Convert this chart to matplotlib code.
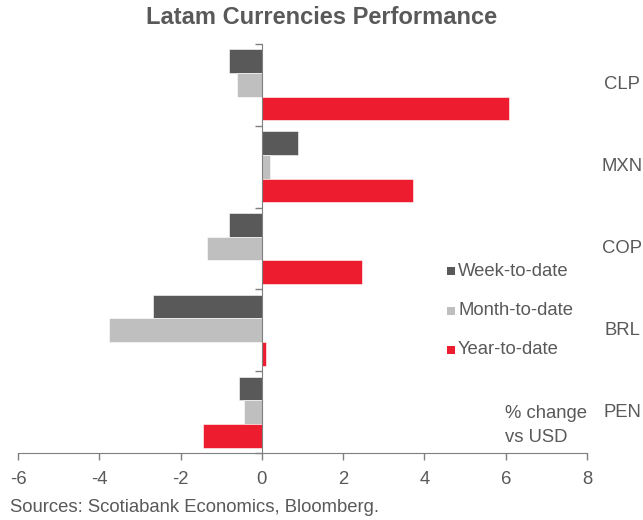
import matplotlib
matplotlib.use("Agg")
import matplotlib.pyplot as plt
from matplotlib.patches import Rectangle
from matplotlib.transforms import blended_transform_factory
import numpy as np

plt.rcParams['font.family'] = ['Liberation Sans', 'DejaVu Sans']

categories = ["CLP", "MXN", "COP", "BRL", "PEN"]
week_to_date = [-0.82, 0.89, -0.82, -2.68, -0.57]
month_to_date = [-0.62, 0.20, -1.36, -3.77, -0.43]
year_to_date = [6.08, 3.73, 2.47, 0.10, -1.46]
series_names = ["Week-to-date", "Month-to-date", "Year-to-date"]
colors = ["#595959", "#bfbfbf", "#ed1c2e"]
xticks = [-6, -4, -2, 0, 2, 4, 6, 8]

W, H = 643, 520
fig = plt.figure(figsize=(W / 100, H / 100), dpi=100)
ax = fig.add_axes([18 / W, 1 - 453 / H, (587 - 18) / W, (453 - 44) / H])

txt = "#595959"
fs = 13.3
y = np.arange(len(categories))
h = 0.29
for vals, off, c in zip([week_to_date, month_to_date, year_to_date], [-h, 0, h], colors):
    ax.barh(y + off, vals, height=h, color=c, edgecolor="white", linewidth=0.4)

ax.set_xlim(-6, 8)
ax.set_ylim(4.5, -0.5)
ax.set_xticks(xticks)
ax.set_xticklabels([str(v) for v in xticks])
ax.tick_params(axis='x', colors="#7f7f7f", labelcolor=txt, labelsize=fs, length=5, width=1, pad=8)

for s in ["top", "right"]:
    ax.spines[s].set_visible(False)
ax.spines["bottom"].set_color("#7f7f7f")
ax.spines["left"].set_position(("data", 0))
ax.spines["left"].set_color("#7f7f7f")
ax.set_yticks(np.arange(-0.5, len(categories) + 0.5, 1.0))
ax.set_yticklabels([])
ax.tick_params(axis='y', colors="#7f7f7f", length=5, width=1, direction="out")

tr = blended_transform_factory(fig.transFigure, ax.transData)
for yi, cat in zip(y, categories):
    ax.text(622 / W, yi, cat, transform=tr, ha="center", va="center", fontsize=fs, color=txt)

# legend
for i, (name, c) in enumerate(zip(series_names, colors)):
    yc = 271 + i * 39.5
    fig.patches.append(Rectangle((447 / W, 1 - (yc + 4) / H), 8 / W, 8 / H,
                                 transform=fig.transFigure, facecolor=c, edgecolor="none"))
    fig.text(458 / W, 1 - yc / H, name, ha="left", va="center", fontsize=fs, color=txt)

fig.text(505 / W, 1 - 413 / H, "% change", ha="left", va="center", fontsize=fs, color=txt)
fig.text(505 / W, 1 - 437 / H, "vs USD", ha="left", va="center", fontsize=fs, color=txt)

fig.text(322 / W, 1 - 18 / H, "Latam Currencies Performance", ha="center", va="center",
         fontsize=17, fontweight="bold", color=txt)
fig.text(10 / W, 1 - 508 / H, "Sources: Scotiabank Economics, Bloomberg.", ha="left", va="center",
         fontsize=fs, color=txt)

fig.savefig("out.png", dpi=100)
